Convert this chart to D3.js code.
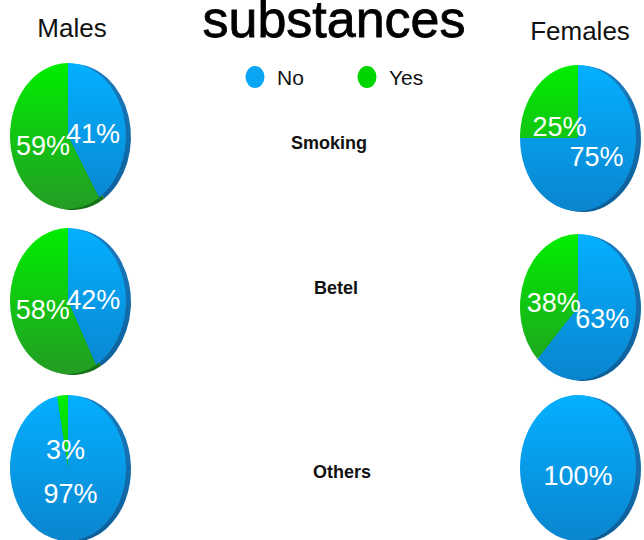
<!DOCTYPE html>
<html>
<head>
<meta charset="utf-8">
<script src="https://cdn.jsdelivr.net/npm/d3@7"></script>
<style>
  html, body { margin: 0; padding: 0; background: #fff; }
  svg { display: block; font-family: "Liberation Sans", Arial, Helvetica, sans-serif; }
</style>
</head>
<body>
<svg id="chart" width="644" height="540"></svg>
<script>
// Answers per substance, by sex (percent)
const categories = ["Smoking", "Betel", "Others"];
const groups = ["Males", "Females"];
const seriesNames = ["No", "Yes"];
const malesNo = [41, 42, 97];
const malesYes = [59, 58, 3];
const femalesNo = [75, 63, 100];
const femalesYes = [25, 38, 0];
const titleText = "substances";

const svg = d3.select("#chart");

const colorFace = d3.scaleOrdinal().domain(seriesNames).range(["url(#gNo)", "url(#gYes)"]);
const colorRim = d3.scaleOrdinal().domain(seriesNames).range(["url(#rNo)", "url(#rYes)"]);
const legendColor = d3.scaleOrdinal().domain(seriesNames).range(["#0aa6f4", "#00d500"]);

// Shading gradients, defined in the unit pie space (radius 100)
const defs = svg.append("defs");
function grad(id, c1, c2) {
  const g = defs.append("linearGradient").attr("id", id)
    .attr("gradientUnits", "userSpaceOnUse")
    .attr("x1", 0).attr("y1", -100).attr("x2", 0).attr("y2", 100);
  g.append("stop").attr("offset", 0).attr("stop-color", c1);
  g.append("stop").attr("offset", 1).attr("stop-color", c2);
}
grad("gNo", "#04b0ff", "#0a85cf");
grad("gYes", "#00ee00", "#249c24");
grad("rNo", "#1b7cc0", "#0c5e98");
grad("rYes", "#1c9a1c", "#137013");

// Layout: a column per sex, a row per substance
const colX = d3.scaleOrdinal().domain(groups).range([68, 578]);
const rowY = d3.scalePoint().domain(categories).range([136, 470]);
const rowDy = { Males: [0, -2, -2], Females: [2, 4, -2] };
const rx = 58, ry = 73, R = 100;

const pie = d3.pie().sort(null).value(d => d.value);
const arc = d3.arc().innerRadius(0).outerRadius(R);

// Title and column headings
svg.append("text").attr("x", 334).attr("y", 37)
  .attr("text-anchor", "middle").attr("font-size", 52)
  .attr("fill", "#000").attr("stroke", "#000").attr("stroke-width", 0.8)
  .text(titleText);
groups.forEach((g, i) => {
  svg.append("text").attr("x", i === 0 ? 72 : 580).attr("y", i === 0 ? 37 : 40)
    .attr("text-anchor", "middle").attr("font-size", 26).attr("fill", "#111").text(g);
});

// Legend
const legendX = d3.scaleOrdinal().domain(seriesNames).range([255, 367]);
const leg = svg.append("g").selectAll("g").data(seriesNames).join("g")
  .attr("transform", d => `translate(${legendX(d)},77)`);
leg.append("ellipse").attr("rx", 9.5).attr("ry", 11).attr("fill", d => legendColor(d));
leg.append("text").attr("x", 22).attr("y", 8).attr("font-size", 21).attr("fill", "#111").text(d => d);

// Substance names between the columns
const catX = { Smoking: 329, Betel: 336, Others: 342 };
const catY = { Smoking: 143, Betel: 288, Others: 472 };
categories.forEach(c => {
  svg.append("text").attr("x", catX[c]).attr("y", catY[c])
    .attr("text-anchor", "middle").attr("dominant-baseline", "central")
    .attr("font-size", 18).attr("font-weight", "bold").attr("fill", "#111").text(c);
});

// One tilted pie per sex and substance
const dataBy = { Males: [malesNo, malesYes], Females: [femalesNo, femalesYes] };
groups.forEach(g => {
  categories.forEach((c, ci) => {
    const vals = seriesNames.map((s, si) => ({ key: s, value: dataBy[g][si][ci] }));
    const arcs = pie(vals).filter(a => a.value > 0);
    const cx = colX(g), cy = rowY(c) + rowDy[g][ci];

    // side of the disc, visible on the right
    svg.append("g").attr("transform", `translate(${cx + 5},${cy + 1}) scale(${rx / R},${ry / R})`)
      .selectAll("path").data(arcs).join("path")
      .attr("d", arc).attr("fill", d => colorRim(d.data.key));

    // face of the disc
    svg.append("g").attr("transform", `translate(${cx},${cy}) scale(${rx / R},${ry / R})`)
      .selectAll("path").data(arcs).join("path")
      .attr("d", arc).attr("fill", d => colorFace(d.data.key));

    // value labels
    svg.append("g").attr("transform", `translate(${cx},${cy})`)
      .selectAll("text").data(arcs).join("text")
      .attr("x", d => {
        if (d.endAngle - d.startAngle >= 2 * Math.PI - 1e-6) return 0;
        const m = (d.startAngle + d.endAngle) / 2;
        return 0.45 * rx * Math.sin(m);
      })
      .attr("y", d => {
        if (d.endAngle - d.startAngle >= 2 * Math.PI - 1e-6) return 8;
        const m = (d.startAngle + d.endAngle) / 2;
        return -0.3 * ry * Math.cos(m) + 4;
      })
      .attr("text-anchor", "middle").attr("dominant-baseline", "central")
      .attr("font-size", 27).attr("fill", "#fff")
      .text(d => d.value + "%");
  });
});
</script>
</body>
</html>
